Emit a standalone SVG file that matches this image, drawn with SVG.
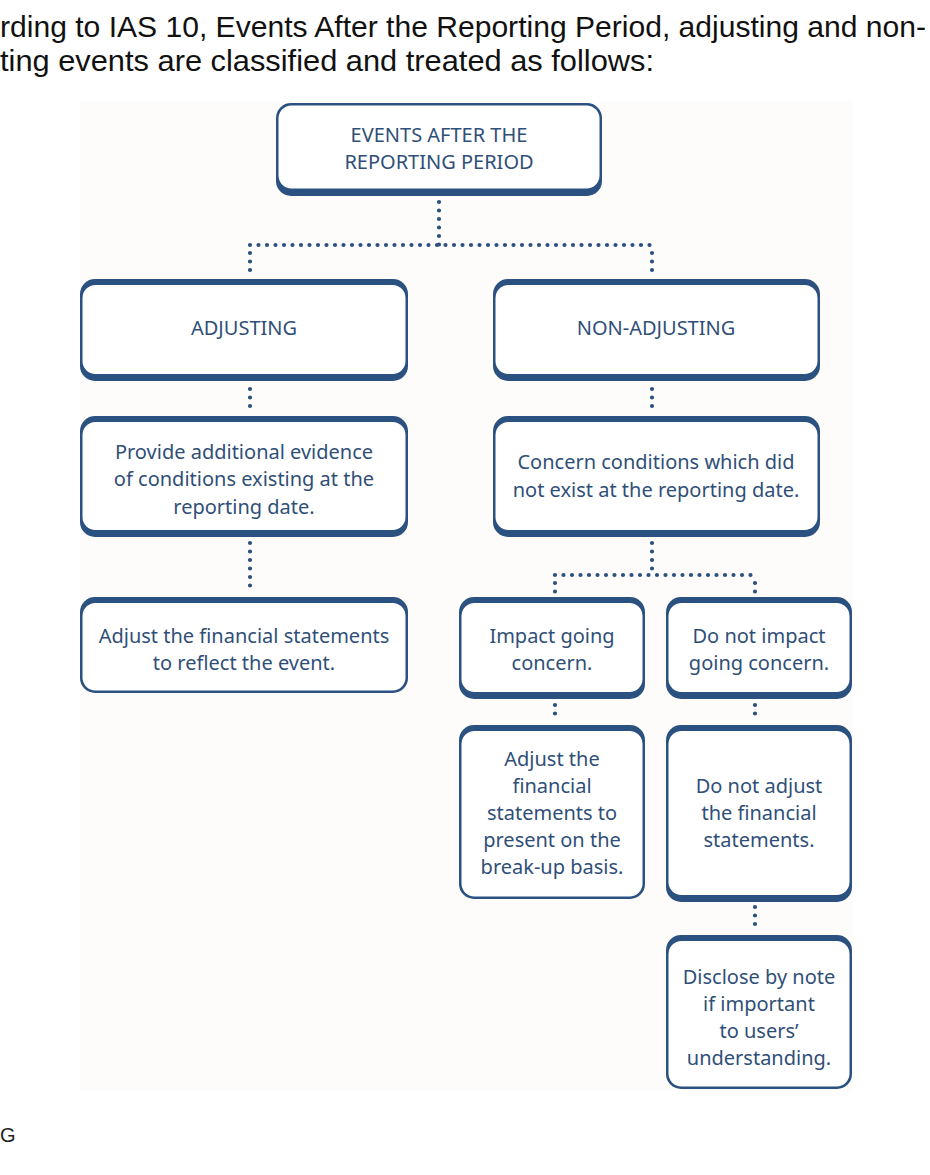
<svg xmlns="http://www.w3.org/2000/svg" width="930" height="1175" viewBox="0 0 930 1175">
<style>
.heading{font-family:"Liberation Sans",Arial,sans-serif;font-size:30px;fill:#111}
.t{font-family:"Noto Sans","Open Sans",sans-serif;font-size:20px;font-weight:450;fill:#2f4f78;text-anchor:middle}
.frame{fill:#2b5180}
.inner{fill:#ffffff}
.dot{stroke:#2b5180;stroke-width:4.2;stroke-linecap:round;stroke-dasharray:0 8.5;fill:none}
</style>
<rect width="930" height="1175" fill="#ffffff"/>
<text class="heading" x="0" y="37" textLength="926" lengthAdjust="spacingAndGlyphs">rding to IAS 10, Events After the Reporting Period, adjusting and non-</text>
<text class="heading" x="0" y="71" textLength="654" lengthAdjust="spacingAndGlyphs">ting events are classified and treated as follows:</text>
<text x="0" y="1142" style="font-family:'Liberation Sans',Arial,sans-serif;font-size:20px;fill:#222">G</text>
<rect x="80" y="101" width="773" height="989" fill="#fdfcfa"/>

<g id="connectors">
<path class="dot" d="M439 202 V245"/>
<path class="dot" d="M250 245 H652"/>
<path class="dot" d="M250 253 V275 M652 253 V275"/>
<path class="dot" d="M250 389 V412"/>
<path class="dot" d="M250 543 V592"/>
<path class="dot" d="M652 389 V412"/>
<path class="dot" d="M652 543 V575"/>
<path class="dot" d="M555 575 H755"/>
<path class="dot" d="M555 583 V594 M755 583 V594"/>
<path class="dot" d="M555 705 V722"/>
<path class="dot" d="M755 705 V722"/>
<path class="dot" d="M755 907 V932"/>
</g>

<g id="n-events">
<rect class="frame" x="276" y="103" width="326" height="93" rx="15"/>
<rect class="inner" x="278.5" y="105.5" width="321" height="83" rx="13"/>
<text class="t" x="439" y="142">EVENTS AFTER THE</text>
<text class="t" x="439" y="169">REPORTING PERIOD</text>
</g>

<g id="n-adjusting">
<rect class="frame" x="80" y="279" width="328" height="102" rx="15"/>
<rect class="inner" x="82.5" y="285" width="323" height="89" rx="13"/>
<text class="t" x="244" y="335">ADJUSTING</text>
</g>

<g id="n-nonadjusting">
<rect class="frame" x="493" y="279" width="327" height="102" rx="15"/>
<rect class="inner" x="495.5" y="285" width="322" height="89" rx="13"/>
<text class="t" x="656" y="335">NON-ADJUSTING</text>
</g>

<g id="n-provide">
<rect class="frame" x="80" y="416" width="328" height="121" rx="15"/>
<rect class="inner" x="82.5" y="422" width="323" height="108" rx="13"/>
<text class="t" x="244" y="459">Provide additional evidence</text>
<text class="t" x="244" y="486">of conditions existing at the</text>
<text class="t" x="244" y="514">reporting date.</text>
</g>

<g id="n-concern">
<rect class="frame" x="493" y="416" width="327" height="121" rx="15"/>
<rect class="inner" x="495.5" y="422" width="322" height="108" rx="13"/>
<text class="t" x="656" y="469">Concern conditions which did</text>
<text class="t" x="656" y="497">not exist at the reporting date.</text>
</g>

<g id="n-adjust-fs">
<rect class="frame" x="80" y="597" width="328" height="96" rx="15"/>
<rect class="inner" x="82.5" y="603" width="323" height="87.5" rx="13"/>
<text class="t" x="244" y="643">Adjust the financial statements</text>
<text class="t" x="244" y="670">to reflect the event.</text>
</g>

<g id="n-impact">
<rect class="frame" x="459" y="597" width="186" height="102" rx="15"/>
<rect class="inner" x="461.5" y="603" width="181" height="89" rx="13"/>
<text class="t" x="552" y="643">Impact going</text>
<text class="t" x="552" y="670">concern.</text>
</g>

<g id="n-noimpact">
<rect class="frame" x="666" y="597" width="186" height="102" rx="15"/>
<rect class="inner" x="668.5" y="603" width="181" height="89" rx="13"/>
<text class="t" x="759" y="643">Do not impact</text>
<text class="t" x="759" y="670">going concern.</text>
</g>

<g id="n-breakup">
<rect class="frame" x="459" y="725" width="186" height="174" rx="15"/>
<rect class="inner" x="461.5" y="731" width="181" height="165.5" rx="13"/>
<text class="t" x="552" y="766">Adjust the</text>
<text class="t" x="552" y="793">financial</text>
<text class="t" x="552" y="820">statements to</text>
<text class="t" x="552" y="847">present on the</text>
<text class="t" x="552" y="874">break-up basis.</text>
</g>

<g id="n-noadjust">
<rect class="frame" x="666" y="725" width="186" height="177" rx="15"/>
<rect class="inner" x="668.5" y="731" width="181" height="164" rx="13"/>
<text class="t" x="759" y="793">Do not adjust</text>
<text class="t" x="759" y="820">the financial</text>
<text class="t" x="759" y="847">statements.</text>
</g>

<g id="n-disclose">
<rect class="frame" x="666" y="935" width="186" height="154" rx="15"/>
<rect class="inner" x="668.5" y="941" width="181" height="145.5" rx="13"/>
<text class="t" x="759" y="984">Disclose by note</text>
<text class="t" x="759" y="1011">if important</text>
<text class="t" x="759" y="1038">to users’</text>
<text class="t" x="759" y="1065">understanding.</text>
</g>
</svg>
